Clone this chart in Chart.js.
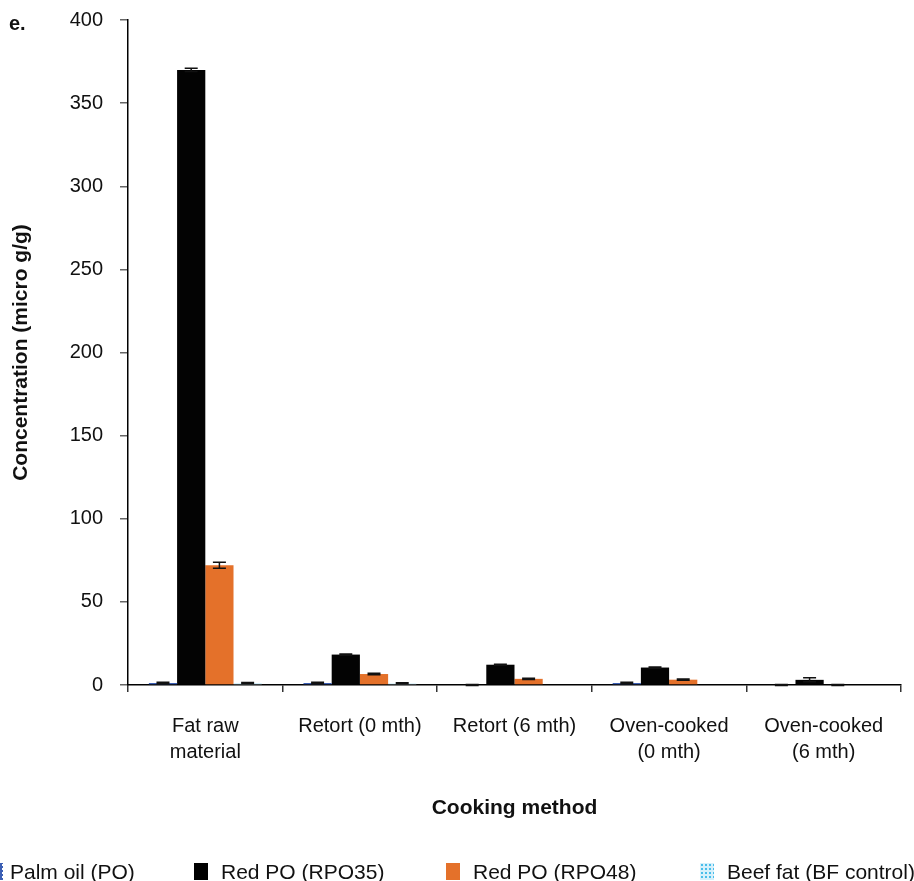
<!DOCTYPE html>
<html>
<head>
<meta charset="utf-8">
<script src="https://cdn.jsdelivr.net/npm/chart.js@4.4.1/dist/chart.umd.min.js"></script>
<style>
  html, body { margin: 0; padding: 0; background: #fff; overflow: hidden; }
  body { width: 914px; height: 881px; position: relative; font-family: "Liberation Sans", Arial, sans-serif; color: #111; }
  #panel { position: absolute; left: 9px; top: 12px; font-weight: bold; font-size: 20px; }
  .lg { position: absolute; top: 860px; font-size: 21px; line-height: 24px; white-space: nowrap; }
  .lg .box { position: absolute; left: 0; top: 3px; width: 14px; height: 17px; }
  .lg .txt { position: absolute; left: 27px; top: 0; }
</style>
</head>
<body>
<canvas id="chart" width="914" height="881"></canvas>
<div id="panel">e.</div>
<div class="lg" style="left:-11px"><span class="box" style="background:#3c5fb4;background-image:radial-gradient(#fff 0.9px, transparent 1.1px);background-size:4px 4px"></span><span class="txt" style="left:21px">Palm oil (PO)</span></div>
<div class="lg" style="left:194px"><span class="box" style="background:#000"></span><span class="txt">Red PO (RPO35)</span></div>
<div class="lg" style="left:446px"><span class="box" style="background:#e4712a"></span><span class="txt">Red PO (RPO48)</span></div>
<div class="lg" style="left:700px"><span class="box" style="background:#d6f0fb;background-image:radial-gradient(#48bdea 1.3px, transparent 1.5px);background-size:4px 4px"></span><span class="txt">Beef fat (BF control)</span></div>
<script>
// ---------- DATA ----------
const categories = [['Fat raw', 'material'], 'Retort (0 mth)', 'Retort (6 mth)', ['Oven-cooked', '(0 mth)'], ['Oven-cooked', '(6 mth)']];

const poValues    = [1.2, 1.2, 0, 1.2, 0];
const poErrors    = [0.4, 0.4, 0.3, 0.4, 0.3];
const rpo35Values = [370, 18.3, 12.2, 10.5, 3.1];
const rpo35Errors = [1, 0.4, 0.3, 0.4, 1.2];
const rpo48Values = [72, 6.6, 3.7, 3.2, 0];
const rpo48Errors = [1.8, 0.4, 0.4, 0.4, 0.3];
const bfValues    = [1.2, 1, 0, 0, 0];
const bfErrors    = [0.3, 0.3, 0, 0, 0];

const yTicks = [0, 50, 100, 150, 200, 250, 300, 350, 400];

// ---------- PATTERNS ----------
function dotPattern(bg, dot) {
  const c = document.createElement('canvas');
  c.width = 4; c.height = 4;
  const g = c.getContext('2d');
  g.fillStyle = bg;
  g.fillRect(0, 0, 4, 4);
  g.fillStyle = dot;
  g.fillRect(1, 1, 2, 2);
  return document.getElementById('chart').getContext('2d').createPattern(c, 'repeat');
}

// ---------- ERROR BARS ----------
const errorBars = {
  id: 'errorBars',
  afterDatasetsDraw(chart) {
    const ctx = chart.ctx;
    const y = chart.scales.y;
    ctx.save();
    ctx.strokeStyle = '#111';
    ctx.lineWidth = 1.5;
    chart.data.datasets.forEach((ds, i) => {
      const meta = chart.getDatasetMeta(i);
      meta.data.forEach((bar, j) => {
        const e = ds.errors[j];
        if (!e) return;
        const v = ds.data[j];
        const top = y.getPixelForValue(v + e);
        const bot = y.getPixelForValue(v - e);
        const half = 6.5;
        ctx.beginPath();
        ctx.moveTo(bar.x, top); ctx.lineTo(bar.x, bot);
        ctx.moveTo(bar.x - half, top); ctx.lineTo(bar.x + half, top);
        ctx.moveTo(bar.x - half, bot); ctx.lineTo(bar.x + half, bot);
        ctx.stroke();
      });
    });
    ctx.restore();
  }
};

Chart.defaults.font.family = '"Liberation Sans", Arial, sans-serif';
Chart.defaults.color = '#111';

const ctxChart = document.getElementById('chart');

new Chart(ctxChart, {
  type: 'bar',
  data: {
    labels: categories,
    datasets: [
      { label: 'Palm oil (PO)', data: poValues, errors: poErrors, backgroundColor: dotPattern('#3c5fb4', '#c9d4ee') },
      { label: 'Red PO (RPO35)', data: rpo35Values, errors: rpo35Errors, backgroundColor: '#030303' },
      { label: 'Red PO (RPO48)', data: rpo48Values, errors: rpo48Errors, backgroundColor: '#e4712a' },
      { label: 'Beef fat (BF control)', data: bfValues, errors: bfErrors, backgroundColor: dotPattern('#d6f0fb', '#48bdea') }
    ]
  },
  options: {
    responsive: false,
    animation: false,
    events: [],
    borderWidth: 0,
    layout: { padding: { left: 0, right: 13, top: 20, bottom: 50 } },
    datasets: { bar: { categoryPercentage: 0.73, barPercentage: 1 } },
    plugins: { legend: { display: false }, tooltip: { enabled: false } },
    scales: {
      x: {
        grid: { offset: true, drawOnChartArea: false, tickLength: 7, color: '#333', lineWidth: 1.5 },
        border: { color: '#000', width: 1.5 },
        ticks: { font: { size: 20, lineHeight: 1.3 }, padding: 21, maxRotation: 0, autoSkip: false, color: '#111' },
        title: { display: true, text: 'Cooking method', font: { size: 21, weight: 'bold' }, padding: { top: 0, bottom: 10 }, color: '#111' },
        afterFit(scale) { scale.height = 146; scale.paddingLeft = 0; scale.paddingRight = 0; }
      },
      y: {
        min: 0,
        max: 400,
        afterBuildTicks(scale) { scale.ticks = yTicks.map(v => ({ value: v })); },
        grid: { drawOnChartArea: false, tickLength: 8, color: '#666', lineWidth: 1.5 },
        border: { color: '#000', width: 1.5 },
        ticks: { font: { size: 20 }, padding: 17, color: '#111' },
        title: { display: true, text: 'Concentration (micro g/g)', font: { size: 21, weight: 'bold' }, padding: { top: 9, bottom: 0 }, color: '#111' },
        afterFit(scale) { scale.width = 128; scale.paddingTop = 0; scale.paddingBottom = 0; }
      }
    }
  },
  plugins: [errorBars]
});
</script>
</body>
</html>
